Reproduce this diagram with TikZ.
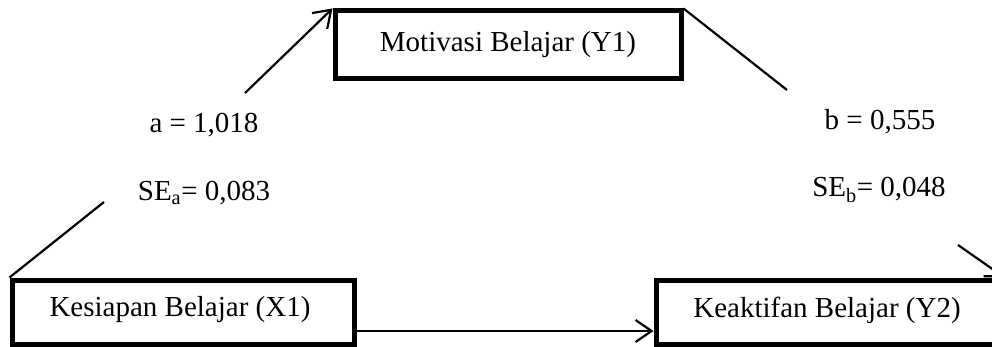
\documentclass[tikz,border=0pt]{standalone}
\usepackage{fontspec}
\setmainfont{Liberation Serif}
\usetikzlibrary{arrows.meta}
\begin{document}
\begin{tikzpicture}[x=1pt,y=-1pt,
  varbox/.style={draw,line width=5pt,inner sep=0pt},
  conn/.style={line width=2.2pt},
  arr/.style={conn,-{Straight Barb[length=16pt,width=22pt,line width=2.2pt]}},
  lbl/.style={font=\fontsize{29}{35}\selectfont,inner sep=0pt}]
\useasboundingbox (0,0) rectangle (992,347);
\clip (0,0) rectangle (992,347);
% boxes
\node[varbox,minimum width=346pt,minimum height=68pt] (M) at (508,45) {};
\node[lbl] at (M.center) {Motivasi Belajar (Y1)};
\node[varbox,minimum width=342pt,minimum height=64pt] (K) at (183,312) {};
\node[lbl] at (180,310) {Kesiapan Belajar (X1)};
\node[varbox,minimum width=346pt,minimum height=64pt] (A) at (829,312) {};
\node[lbl] at (827,310) {Keaktifan Belajar (Y2)};
% labels
\node[lbl] (la) at (204,125) {a = 1,018};
\node[lbl] (lsa) at (204,193) {SE\textsubscript{a}= 0,083};
\node[lbl] (lb) at (880,122) {b = 0,555};
\node[lbl] (lsb) at (879,190) {SE\textsubscript{b}= 0,048};
% connectors
\coordinate (a1) at (104,202);
\coordinate (a2) at (245,93);
\coordinate (b1) at (787,90);
\coordinate (b2) at (958,245);
\draw[conn] (K.north west) -- (a1);
\draw[arr] (a2) -- (M.north west);
\draw[conn] (M.north east) -- (b1);
\draw[arr] (b2) -- (A.north east);
\draw[arr] (K.east |- 0,331) -- (A.west |- 0,331);
\end{tikzpicture}
\end{document}
